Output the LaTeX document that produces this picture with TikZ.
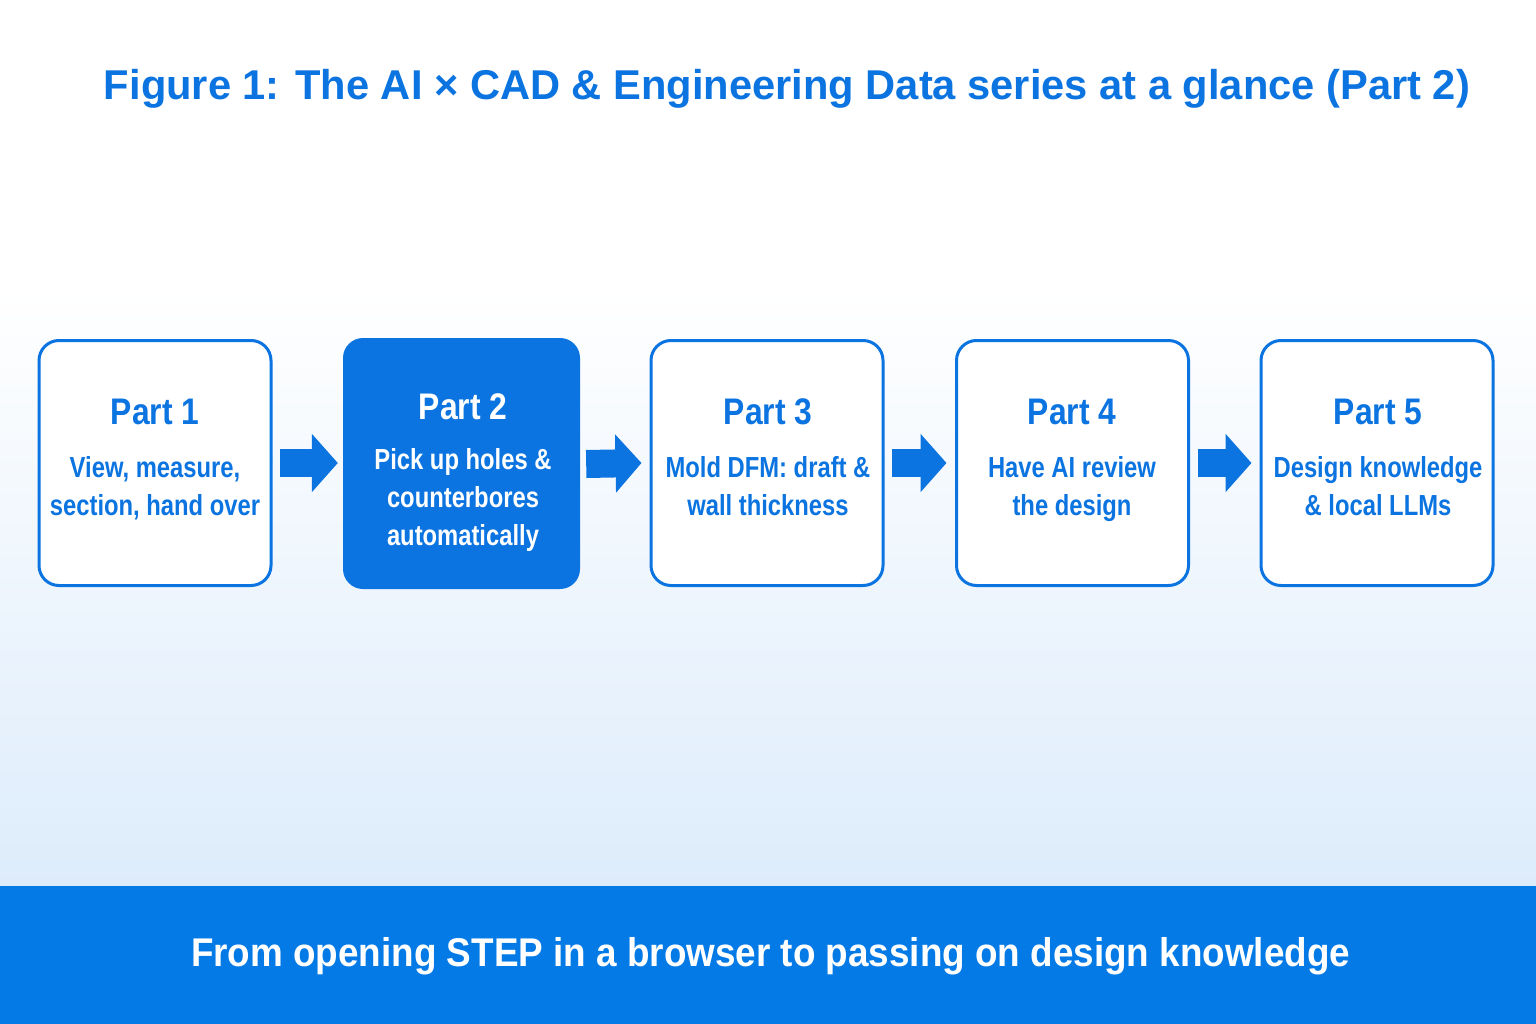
\documentclass[tikz,border=0pt]{standalone}
\usepackage{fontspec}
\setmainfont{Liberation Sans}
\newfontfamily\condfont[FakeStretch=0.82]{Liberation Sans}
\newfontfamily\partfont[FakeStretch=0.86]{Liberation Sans}
\newfontfamily\bandfont[FakeStretch=0.92]{Liberation Sans}
\usetikzlibrary{arrows.meta}
\definecolor{mainblue}{HTML}{0B74E0}
\definecolor{bandblue}{HTML}{047AE6}
\definecolor{bglight}{HTML}{DDECFB}
\begin{document}
\begin{tikzpicture}[x=1pt,y=-1pt,
  partbox/.style={draw=mainblue, line width=3pt, rounded corners=20pt, fill=white,
    minimum width=232pt, minimum height=245pt, inner sep=0pt},
  hotbox/.style={fill=mainblue, rounded corners=20pt,
    minimum width=237pt, minimum height=251pt, inner sep=0pt},
  parttitle/.style={anchor=base, inner sep=0pt, text=mainblue,
    font=\partfont\bfseries\fontsize{37}{40}\selectfont},
  partline/.style={anchor=base, inner sep=0pt, text=mainblue,
    font=\condfont\bfseries\fontsize{29}{34}\selectfont},
  flowarrow/.style={draw=mainblue, line width=28pt, line cap=butt,
    -{Triangle[length=26pt,width=57pt]}}
]
\useasboundingbox (0,0) rectangle (1536,1024);
\fill[white] (0,0) rectangle (1536,290);
\shade[top color=white, bottom color=bglight] (0,289) rectangle (1536,886);
\fill[bandblue] (0,886) rectangle (1536,1024);

% title
\node[anchor=base, inner sep=0pt, text=mainblue] (title) at (787,100)
  {\resizebox{1366pt}{!}{\bfseries\fontsize{45}{50}\selectfont Figure 1: The AI \texttimes{} CAD \& Engineering Data series at a glance (Part 2)}};

% boxes
\node[partbox] (b1) at (155,463) {};
\node[hotbox]  (b2) at (461.5,463.5) {};
\node[partbox] (b3) at (767,463) {};
\node[partbox] (b4) at (1072.5,463) {};
\node[partbox] (b5) at (1377,463) {};

% box texts
\node[parttitle] (t1) at (155,424) {Part 1};
\node[partline] (d1a) at (155,477) {View, measure,};
\node[partline] (d1b) at (155,515) {section, hand over};

\node[parttitle, text=white] (t2) at (463,419) {Part 2};
\node[partline, text=white] (d2a) at (463,469) {Pick up holes \&};
\node[partline, text=white] (d2b) at (463,507) {counterbores};
\node[partline, text=white] (d2c) at (463,545) {automatically};

\node[parttitle] (t3) at (768,424) {Part 3};
\node[partline] (d3a) at (768,477) {Mold DFM: draft \&};
\node[partline] (d3b) at (768,515) {wall thickness};

\node[parttitle] (t4) at (1072,424) {Part 4};
\node[partline] (d4a) at (1072,477) {Have AI review};
\node[partline] (d4b) at (1072,515) {the design};

\node[parttitle] (t5) at (1378,424) {Part 5};
\node[partline] (d5a) at (1378,477) {Design knowledge};
\node[partline] (d5b) at (1378,515) {\& local LLMs};

% arrows
\draw[flowarrow] ([xshift=7.5pt]b1.east) -- ([xshift=-5pt,yshift=0.5pt]b2.west);
\draw[flowarrow] ([xshift=6pt,yshift=-0.5pt]b2.east) -- ([xshift=-8pt]b3.west);
\draw[flowarrow] ([xshift=7.5pt]b3.east) -- ([xshift=-8.5pt]b4.west);
\draw[flowarrow] ([xshift=7.5pt]b4.east) -- ([xshift=-8pt]b5.west);

% band text
\node[anchor=base, inner sep=0pt, text=white] (band) at (770.5,966)
  {\resizebox{1159pt}{!}{\bandfont\bfseries\fontsize{42}{46}\selectfont From opening STEP in a browser to passing on design knowledge}};
\end{tikzpicture}
\end{document}
